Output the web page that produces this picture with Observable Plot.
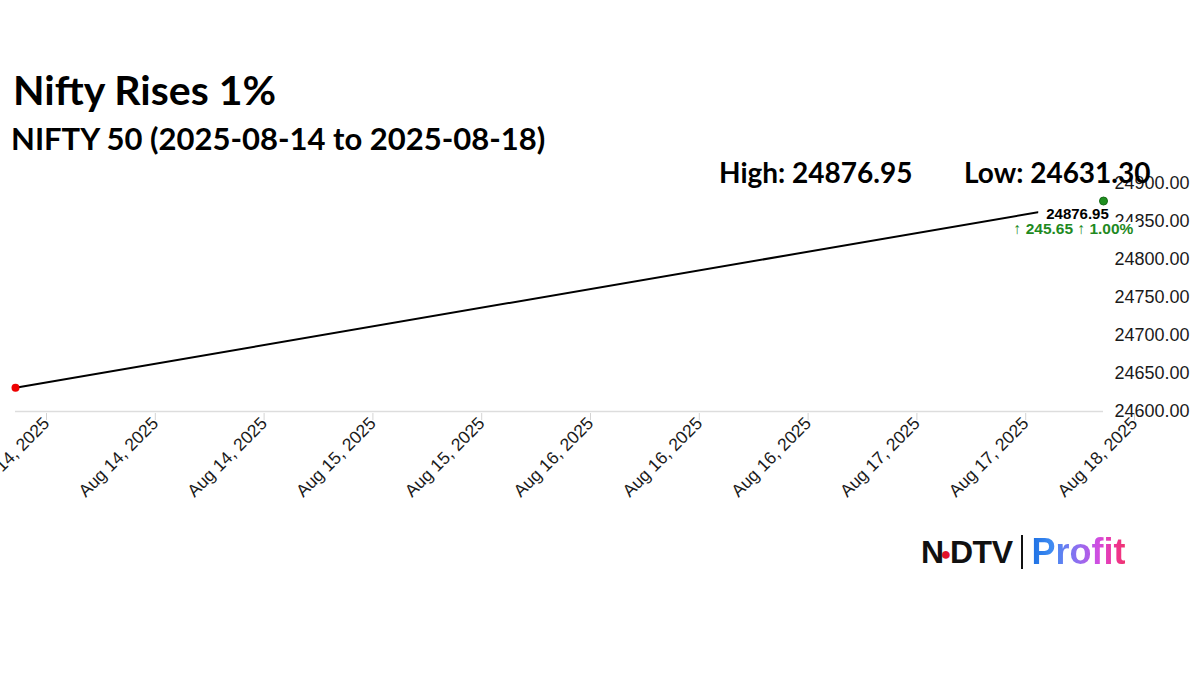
<!DOCTYPE html>
<html>
<head>
<meta charset="utf-8">
<script src="https://cdn.jsdelivr.net/npm/d3@7"></script>
<script src="https://cdn.jsdelivr.net/npm/@observablehq/plot@0.6"></script>
<style>
  html, body { margin: 0; padding: 0; background: #fff; }
  #wrap { position: relative; width: 1200px; height: 675px; overflow: hidden; background: #fff; }
  .hd { position: absolute; margin: 0; font-family: Lato, "Open Sans", sans-serif; font-weight: 700; color: #000; line-height: 1; white-space: nowrap; z-index: 2; }
  #title { left: 13px; top: 69px; font-size: 41px; }
  #subtitle { left: 11px; top: 123px; font-size: 31px; }
  #high { left: 719px; top: 158px; font-size: 28px; }
  #low { left: 964px; top: 158px; font-size: 28px; }
  #chart { position: absolute; left: 0; top: 160px; z-index: 1; }
  #logo { position: absolute; left: 921px; top: 530px; height: 44px; display: flex; align-items: center; white-space: nowrap; z-index: 2; }
  #ndtv { font-family: "Liberation Sans", Arial, sans-serif; font-weight: 900; font-size: 32px; color: #111; letter-spacing: -0.5px; }
  #ndtv .dot { color: #e3132b; font-size: 18px; margin: 0 -1px 0 -3px; position: relative; top: -3px; }
  #bar { display: inline-block; width: 2px; height: 34px; background: #111; margin: 0 8px 0 9px; }
  #profit { font-family: "Liberation Sans", Arial, sans-serif; font-weight: 700; font-size: 36px;
            background: linear-gradient(90deg, #1c6fe3 0%, #3f8cf2 22%, #8f6ff0 50%, #d24ce0 72%, #f0359a 88%, #ee3470 100%);
            -webkit-background-clip: text; background-clip: text; color: transparent; }
</style>
</head>
<body>
<div id="wrap">
  <h1 class="hd" id="title">Nifty Rises 1%</h1>
  <h2 class="hd" id="subtitle">NIFTY 50 (2025-08-14 to 2025-08-18)</h2>
  <div id="chart"></div>
  <div class="hd" id="high"></div>
  <div class="hd" id="low"></div>
  <div id="logo"><span id="ndtv">N<span class="dot">●</span>DTV</span><span id="bar"></span><span id="profit">Profit</span></div>
</div>
<script>
// ---- data ----
const dates = [new Date("2025-08-14T00:00:00Z"), new Date("2025-08-18T00:00:00Z")];
const closeValues = [24631.30, 24876.95];
const yTicks = [24600, 24650, 24700, 24750, 24800, 24850, 24900];
const xTickCount = 11;
const highValue = 24876.95;
const lowValue = 24631.30;
const changeAbs = 245.65;
const changePct = 1.00;

const data = dates.map((d, i) => ({date: d, value: closeValues[i]}));
const xTicks = d3.range(xTickCount).map(i => new Date(+dates[0] + i * (dates[1] - dates[0]) / (xTickCount - 1)));
const fmtDate = d3.utcFormat("%b %-d, %Y");

document.getElementById("high").textContent = `High: ${highValue.toFixed(2)}`;
document.getElementById("low").textContent = `Low: ${lowValue.toFixed(2)}`;

const first = data[0], last = data[data.length - 1];
const endText = last.value.toFixed(2);
const changeText = `↑ ${changeAbs.toFixed(2)} ↑ ${changePct.toFixed(2)}%`;

const plot = Plot.plot({
  width: 1200,
  height: 340,
  marginTop: 23,
  marginBottom: 89,
  marginLeft: 15,
  marginRight: 97,
  style: {fontFamily: "'Liberation Sans', Arial, sans-serif", background: "white"},
  x: {type: "utc", domain: [dates[0], dates[1]], label: null},
  y: {domain: [yTicks[0], yTicks[yTicks.length - 1]], label: null},
  marks: [
    Plot.ruleY([yTicks[0]], {stroke: "#dddddd", strokeWidth: 1.5}),
    Plot.axisX({ticks: xTicks, tickFormat: fmtDate, tickRotate: -45, tickSize: 7, tickPadding: 0,
                stroke: "#d4d4d4", fill: "#1a1a1a", fontSize: 17.5, dx: 31, dy: 2, label: null}),
    Plot.axisY({ticks: yTicks, anchor: "right", tickSize: 0, tickPadding: 11,
                tickFormat: d => d.toFixed(2), fill: "#1a1a1a", fontSize: 18, label: null}),
    Plot.line(data, {x: "date", y: "value", stroke: "#000", strokeWidth: 2}),
    Plot.dot([first], {x: "date", y: "value", r: 4, fill: "#ee0000"}),
    Plot.text([last], {x: "date", y: "value", text: () => endText, dx: -26, dy: 13,
                       fontSize: 15, fontWeight: "bold", fill: "#000"}),
    Plot.text([last], {x: "date", y: "value", text: () => changeText,
                       dx: -30, dy: 28, fontSize: 15.5, fontWeight: "bold", fill: "#1f8a1f"}),
    Plot.dot([last], {x: "date", y: "value", r: 4, fill: "#1f8f1f", stroke: "#166b16", strokeWidth: 1})
  ]
});
document.getElementById("chart").appendChild(plot);

// white background boxes behind the end labels
function boxBehind(str, padL, padR, padT, padB) {
  const t = [...plot.querySelectorAll("text")].find(e => e.textContent === str);
  if (!t) return;
  const b = t.getBBox();
  const rect = document.createElementNS("http://www.w3.org/2000/svg", "rect");
  rect.setAttribute("x", b.x - padL);
  rect.setAttribute("y", b.y - padT);
  rect.setAttribute("width", b.width + padL + padR);
  rect.setAttribute("height", Math.max(0, b.height + padT + padB));
  rect.setAttribute("fill", "white");
  rect.setAttribute("stroke", "none");
  const tr = t.getAttribute("transform");
  if (tr) rect.setAttribute("transform", tr);
  t.parentNode.insertBefore(rect, t);
}
boxBehind(endText, 8, 4, 6, -5);
boxBehind(changeText, 3, 5, -2, 2);
</script>
</body>
</html>
